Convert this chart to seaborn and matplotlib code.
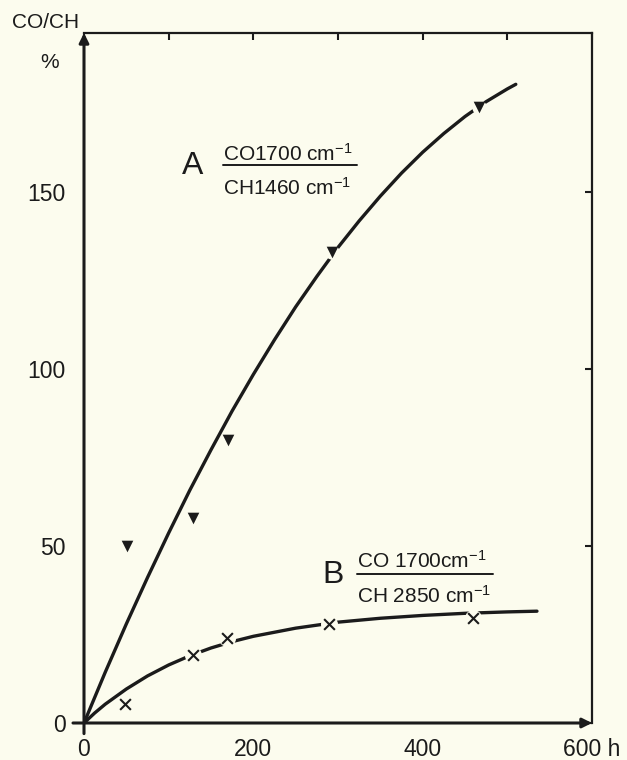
import numpy as np
import pandas as pd
import matplotlib
matplotlib.use("Agg")
import matplotlib.pyplot as plt
import seaborn as sns

# measured points (h, %)
a_hours = [51, 129, 170, 293, 466]
a_ratio = [50, 58, 80, 133, 174]
b_hours = [48, 129, 169, 289, 460]
b_ratio = [5.4, 19.2, 24.1, 28.0, 29.7]

# hand drawn curves
a_curve_h = [0, 25, 50, 75, 100, 125, 150, 175, 200, 225, 250, 275, 300,
             325, 350, 375, 400, 425, 450, 475, 500, 510]
a_curve_v = [0, 14.3, 28.0, 41.1, 53.7, 65.8, 77.2, 88.2, 98.5, 108.3, 117.6, 126.2, 134.4,
             141.9, 148.9, 155.4, 161.3, 166.6, 171.4, 175.6, 179.2, 180.5]
b_curve_h = [0, 12.5, 25, 50, 75, 100, 125, 150, 175, 200, 250, 300, 350, 400, 450, 500, 535]
b_curve_v = [0, 2.8, 5.3, 9.6, 13.3, 16.4, 19.0, 21.2, 23.0, 24.5, 26.8, 28.5, 29.6,
             30.4, 31.0, 31.4, 31.6]

x_ticks = [0, 100, 200, 300, 400, 500, 600]
x_labels = ["0", "", "200", "", "400", "", "600 h"]
y_ticks = [0, 50, 100, 150]
y_labels = ["0", "50", "100", "150"]

bg = "#fcfcee"
ink = "#1b1b1b"

sns.set_theme(style="white")
plt.rcParams["font.family"] = ["Liberation Sans", "DejaVu Sans"]
plt.rcParams["mathtext.fontset"] = "custom"
plt.rcParams["mathtext.rm"] = "Liberation Sans"
plt.rcParams["mathtext.it"] = "Liberation Sans"

fig = plt.figure(figsize=(6.27, 7.6), dpi=100, facecolor=bg)
ax = fig.add_axes([84 / 627, 37 / 760, (592 - 84) / 627, (723 - 33) / 760])
ax.set_facecolor(bg)

dfa = pd.DataFrame({"h": a_curve_h, "v": a_curve_v})
dfb = pd.DataFrame({"h": b_curve_h, "v": b_curve_v})
sns.lineplot(data=dfa, x="h", y="v", ax=ax, color=ink, lw=2.4, sort=False, zorder=2)
sns.lineplot(data=dfb, x="h", y="v", ax=ax, color=ink, lw=2.4, sort=False, zorder=2)

# background blobs make the small gaps round the marks
sns.scatterplot(x=a_hours, y=a_ratio, ax=ax, marker="o", s=110, color=bg, linewidth=0, zorder=3)
sns.scatterplot(x=b_hours, y=b_ratio, ax=ax, marker="o", s=150, color=bg, linewidth=0, zorder=3)
sns.scatterplot(x=a_hours, y=a_ratio, ax=ax, marker="v", s=70, color=ink, linewidth=0, zorder=4)
sns.scatterplot(x=b_hours, y=b_ratio, ax=ax, marker="x", s=60, color=ink, linewidth=1.5, zorder=4)

ax.set_xlim(0, 600)
ax.set_ylim(0, 195)
ax.set_xticks(x_ticks)
ax.set_xticklabels(x_labels)
ax.set_yticks(y_ticks)
ax.set_yticklabels(y_labels)
ax.set_xlabel("")
ax.set_ylabel("")
ax.tick_params(axis="both", direction="in", length=5, width=1.5, color=ink,
               labelcolor=ink, labelsize=16.5, top=True, right=True)
ax.tick_params(axis="x", pad=11)
ax.tick_params(axis="y", pad=13)

for side in ["top", "right"]:
    ax.spines[side].set_linewidth(1.6)
    ax.spines[side].set_color(ink)
for side in ["left", "bottom"]:
    ax.spines[side].set_visible(False)

# axes drawn as arrows, crossing a little past the origin
ax.annotate("", xy=(0, 195), xytext=(0, -3), xycoords="data", annotation_clip=False,
            arrowprops=dict(arrowstyle="-|>", lw=2.2, color=ink, mutation_scale=14,
                            shrinkA=0, shrinkB=0))
ax.annotate("", xy=(600, 0), xytext=(-13, 0), xycoords="data", annotation_clip=False,
            arrowprops=dict(arrowstyle="-|>", lw=2.2, color=ink, mutation_scale=14,
                            shrinkA=0, shrinkB=0))

fig.text(12 / 627, 1 - 22 / 760, "CO/CH", fontsize=15, color=ink, va="center", ha="left")
fig.text(50 / 627, 1 - 62 / 760, "%", fontsize=15, color=ink, va="center", ha="center")

# labels of the two series, written as fractions
ax.text(128, 157.3, "A", fontsize=23, color=ink, ha="center", va="center")
ax.text(164, 160.9, r"CO1700 cm$^{-1}$", fontsize=15, color=ink, ha="left", va="center")
ax.plot([164, 322], [157.6, 157.6], color=ink, lw=1.4)
ax.text(164, 151.3, r"CH1460 cm$^{-1}$", fontsize=15, color=ink, ha="left", va="center")

ax.text(294, 41.9, "B", fontsize=23, color=ink, ha="center", va="center")
ax.text(323, 45.8, r"CO 1700cm$^{-1}$", fontsize=15, color=ink, ha="left", va="center")
ax.plot([323, 483], [42.2, 42.2], color=ink, lw=1.4)
ax.text(323, 35.8, r"CH 2850 cm$^{-1}$", fontsize=15, color=ink, ha="left", va="center")

fig.savefig("out.png", dpi=100, facecolor=bg)
